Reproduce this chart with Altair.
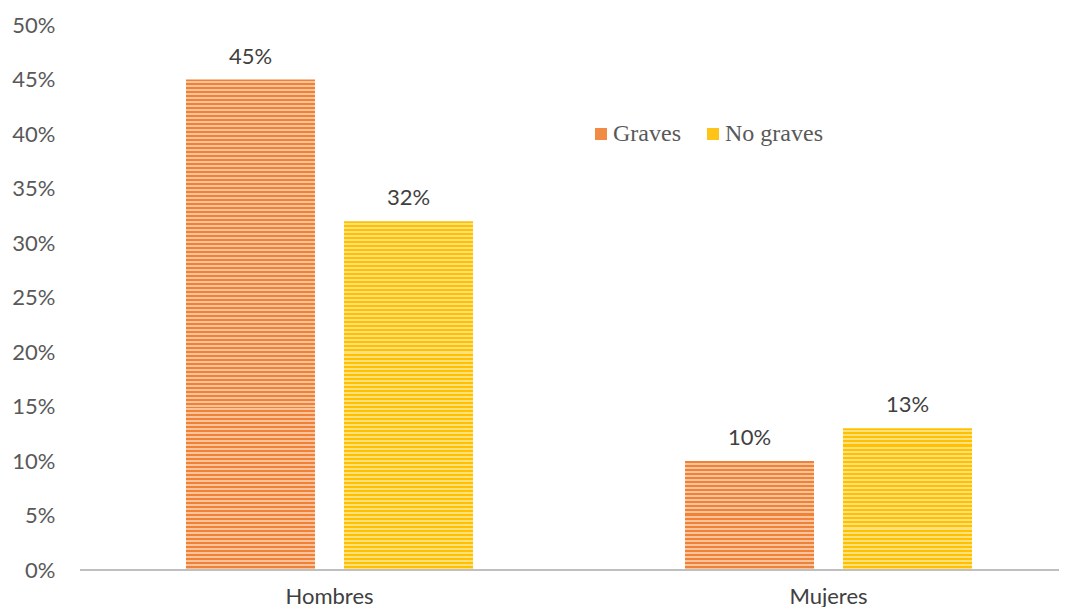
import altair as alt
import pandas as pd

categorias = ["Hombres", "Mujeres"]
tipos = ["Graves", "No graves"]
graves = [0.45, 0.10]
no_graves = [0.32, 0.13]
y_ticks = [0, 0.05, 0.10, 0.15, 0.20, 0.25, 0.30, 0.35, 0.40, 0.45, 0.50]

rows = []
for i, c in enumerate(categorias):
    rows.append({"Sexo": c, "Tipo": "Graves", "Valor": graves[i]})
    rows.append({"Sexo": c, "Tipo": "No graves", "Valor": no_graves[i]})
df = pd.DataFrame(rows)

W = 979
H = 545
YMAX = 0.5
colores = {"Graves": ("#EF8236", "#F9C49C"), "No graves": ("#FFC000", "#FFE07A")}
legend_colors = ["#F08A45", "#FFC418"]


def stripes(dark, light, px):
    n = max(1, round(px / 4))
    stops = []
    for k in range(n):
        stops += [
            {"offset": k / n, "color": dark},
            {"offset": (k + 0.5) / n, "color": dark},
            {"offset": (k + 0.5) / n, "color": light},
            {"offset": min(1.0, (k + 1) / n), "color": light},
        ]
    return {"gradient": "linear", "x1": 0, "y1": 0, "x2": 0, "y2": 1, "stops": stops}


x = alt.X(
    "Sexo:N",
    scale=alt.Scale(domain=categorias, range=[0, 998], paddingInner=0, paddingOuter=0),
    axis=alt.Axis(title=None, labelAngle=0, domain=False, ticks=False, labelFont="Lato",
                  labelFontSize=22, labelColor="#404040", labelPadding=16),
)
xo = alt.XOffset("Tipo:N", scale=alt.Scale(domain=tipos, paddingInner=0.1835, paddingOuter=0.671))
y = alt.Y(
    "Valor:Q",
    scale=alt.Scale(domain=[0, YMAX]),
    axis=alt.Axis(title=None, format=".0%", values=y_ticks, grid=False, domain=False, ticks=False,
                  labelFont="Lato", labelFontSize=22, labelColor="#595959", labelPadding=25),
)

base = alt.Chart(df)

bars = []
for r in rows:
    dark, light = colores[r["Tipo"]]
    px = r["Valor"] / YMAX * H
    bars.append(
        base.transform_filter((alt.datum.Sexo == r["Sexo"]) & (alt.datum.Tipo == r["Tipo"]))
        .mark_bar(color=stripes(dark, light, px))
        .encode(x=x, xOffset=xo, y=y)
    )

legend_layer = base.mark_bar(opacity=0).encode(
    x=x, xOffset=xo, y=y,
    color=alt.Color(
        "Tipo:N",
        scale=alt.Scale(domain=tipos, range=legend_colors),
        legend=alt.Legend(title=None, orient="none", legendX=509, legendY=97, direction="horizontal",
                          symbolType="square", symbolSize=144, symbolOpacity=1, symbolStrokeWidth=0,
                          labelFont="Liberation Serif", labelFontSize=24, labelColor="#595959",
                          columnPadding=20, labelOffset=0),
    ),
)

rule = base.mark_rule(color="#BFBFBF", strokeWidth=2).encode(
    y=alt.datum(0), x=alt.value(0), x2=alt.value(W)
)

text = base.mark_text(dy=-11, baseline="bottom", font="Lato", fontSize=22, color="#404040").encode(
    x=x, xOffset=xo, y=y, text=alt.Text("Valor:Q", format=".0%")
)

chart = alt.layer(*bars, legend_layer, rule, text).properties(
    width=W, height=H,
    autosize=alt.AutoSizeParams(type="none"),
    padding={"left": 72, "top": 17, "right": 0, "bottom": 37},
).configure_view(stroke=None)

chart.save("out.html", embed_options={"renderer": "svg", "actions": False})
